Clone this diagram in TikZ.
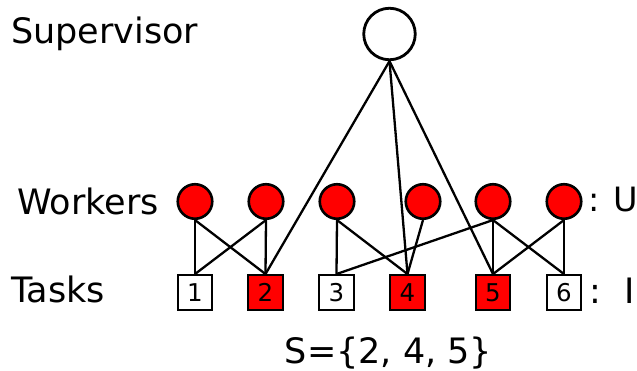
\documentclass[tikz,border=0pt]{standalone}
\usepackage{fontspec}
\setmainfont{DejaVu Sans}
\begin{document}
\begin{tikzpicture}[x=1pt,y=-1pt,
  lbl/.style={anchor=base west,inner sep=0pt,font=\fontsize{35}{40}\selectfont},
  sup/.style={circle,draw,line width=2.8pt,fill=white,minimum size=51.5pt,inner sep=0pt},
  worker/.style={circle,draw,line width=2.6pt,fill=red,minimum size=34.5pt,inner sep=0pt},
  task/.style={rectangle,draw,line width=2.4pt,fill=white,minimum size=34.5pt,inner sep=0pt,font=\fontsize{24.5}{28}\selectfont},
  chosen/.style={task,fill=red},
  edge/.style={line width=2.3pt}]
\useasboundingbox (0,0) rectangle (637,371);
\node[sup] (s) at (389.5,34) {};
\node[worker] (w1) at (195,201.5) {};
\node[worker] (w2) at (266,201.5) {};
\node[worker] (w3) at (337,201.5) {};
\node[worker] (w4) at (423,201.5) {};
\node[worker] (w5) at (493,201.5) {};
\node[worker] (w6) at (564,201.5) {};
\node[task] (t1) at (195,292.5) {1};
\node[chosen] (t2) at (265.5,292.5) {2};
\node[task] (t3) at (336.5,292.5) {3};
\node[chosen] (t4) at (407.5,292.5) {4};
\node[chosen] (t5) at (493,292.5) {5};
\node[task] (t6) at (564,292.5) {6};
\draw[edge] (s.south) -- (t2.north);
\draw[edge] (s.south) -- (t4.north);
\draw[edge] (s.south) -- (t5.north);
\draw[edge] (w1.south) -- (t1.north);
\draw[edge] (w1.south) -- (t2.north);
\draw[edge] (w2.south) -- (t1.north);
\draw[edge] (w2.south) -- (t2.north);
\draw[edge] (w3.south) -- (t3.north);
\draw[edge] (w3.south) -- (t4.north);
\draw[edge] (w4.south) -- (t4.north);
\draw[edge] (w5.south) -- (t3.north);
\draw[edge] (w5.south) -- (t5.north);
\draw[edge] (w5.south) -- (t6.north);
\draw[edge] (w6.south) -- (t5.north);
\draw[edge] (w6.south) -- (t6.north);
\node[lbl] (supl) at (11,43.5) {Supervisor};
\node[lbl] (wl) at (17,215) {Workers};
\node[lbl] (tl) at (11,302) {Tasks};
\node[lbl,font=\fontsize{33.5}{40}\selectfont] (ul) at (588,212) {: U};
\node[lbl] (il) at (589,303) {:\hspace{23.8pt}I};
\node[lbl] (setl) at (284.7,363) {S=\{2, 4, 5\}};
\end{tikzpicture}
\end{document}
